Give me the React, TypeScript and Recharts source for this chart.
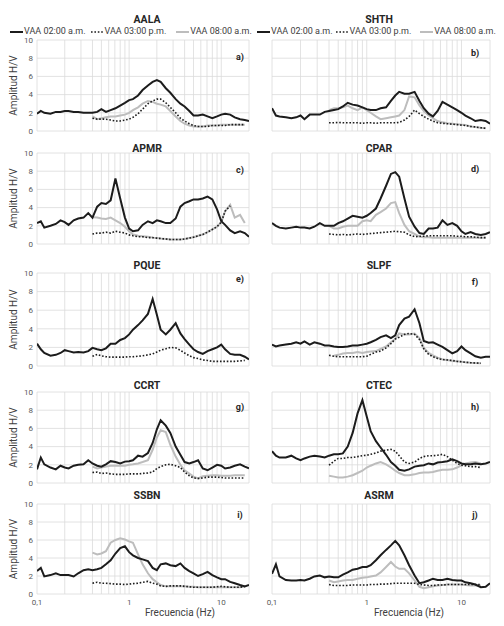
import React from "react";
import { CartesianGrid, Line, LineChart, XAxis, YAxis } from "recharts";

// frequency grid (Hz) shared by all stations
const FREQ = [
  0.1, 0.11, 0.12, 0.14, 0.16, 0.18, 0.2, 0.22, 0.25, 0.28, 0.32, 0.36, 0.4, 0.45, 0.5, 0.56,
  0.63, 0.71, 0.8, 0.9, 1, 1.1, 1.25, 1.4, 1.6, 1.8, 2, 2.2, 2.5, 2.8, 3.2, 3.6, 4, 4.5, 5, 5.6,
  6.3, 7.1, 8, 9, 10, 11, 12.5, 14, 16, 18, 20,
];
// the 03:00 p.m. and 08:00 a.m. records start at 0.4 Hz (FREQ[12]) and stop at 18 Hz
const LATE_START = 12;

const LOG_TICKS = [
  0.1, 0.2, 0.3, 0.4, 0.5, 0.6, 0.7, 0.8, 0.9, 1, 2, 3, 4, 5, 6, 7, 8, 9, 10, 20,
];
const AMP_TICKS = [0, 2, 4, 6, 8, 10];

const SERIES_NAMES = ["VAA 02:00 a.m.", "VAA 03:00 p.m.", "VAA 08:00 a.m."];

const AALA_AM2 = [1.9, 2.2, 2.0, 1.9, 2.1, 2.1, 2.2, 2.2, 2.1, 2.1, 2.0, 2.0, 2.0, 2.1, 2.4, 2.1, 2.3, 2.5, 2.8, 3.1, 3.4, 3.5, 3.9, 4.5, 5.0, 5.4, 5.6, 5.4, 4.7, 4.2, 3.5, 3.0, 2.7, 2.2, 1.7, 1.7, 1.8, 1.6, 1.4, 1.6, 1.8, 1.9, 1.8, 1.5, 1.3, 1.2, 1.1];
const AALA_PM3 = [1.4, 1.3, 1.3, 1.3, 1.2, 1.1, 1.1, 1.2, 1.3, 1.5, 1.9, 2.4, 3.0, 3.3, 3.5, 3.5, 3.1, 2.6, 2.0, 1.4, 1.1, 0.8, 0.6, 0.5, 0.5, 0.5, 0.6, 0.6, 0.6, 0.6, 0.7, 0.7, 0.7, 0.7];
const AALA_AM8 = [1.6, 1.3, 1.4, 1.5, 1.6, 1.6, 1.7, 1.8, 2.0, 2.3, 2.6, 3.0, 3.3, 3.2, 3.0, 2.9, 2.7, 2.2, 1.6, 1.1, 0.8, 0.6, 0.5, 0.5, 0.5, 0.6, 0.6, 0.6, 0.7, 0.7, 0.7, 0.7, 0.7, 0.7];

const SHTH_AM2 = [2.5, 1.7, 1.6, 1.5, 1.4, 1.5, 1.7, 1.3, 1.8, 1.8, 1.8, 2.1, 2.2, 2.3, 2.4, 2.7, 3.1, 2.9, 2.8, 2.6, 2.4, 2.3, 2.3, 2.5, 2.6, 3.3, 3.9, 4.3, 4.1, 4.1, 4.3, 3.3, 2.5, 1.9, 1.6, 2.2, 3.2, 2.9, 2.6, 2.3, 2.0, 1.7, 1.4, 1.1, 1.2, 1.1, 0.8];
const SHTH_PM3 = [0.9, 0.9, 0.95, 0.9, 0.9, 0.9, 0.9, 0.85, 0.9, 0.9, 0.85, 0.9, 0.9, 0.9, 0.9, 0.95, 1.2, 1.6, 2.3, 1.9, 1.6, 1.3, 1.1, 0.9, 0.85, 0.8, 0.75, 0.7, 0.65, 0.6, 0.5, 0.45, 0.35, 0.3];
const SHTH_AM8 = [2.3, 2.5, 2.5, 2.6, 2.8, 2.5, 2.3, 2.6, 2.3, 2.0, 1.6, 1.3, 1.4, 1.5, 1.6, 1.7, 2.3, 3.8, 3.7, 2.8, 2.2, 1.7, 1.4, 1.1, 0.95, 0.85, 0.8, 0.75, 0.7, 0.65, 0.5, 0.45, 0.35, 0.3];

const APMR_AM2 = [2.3, 2.5, 1.8, 2.0, 2.2, 2.6, 2.4, 2.1, 2.6, 2.8, 2.9, 3.4, 2.9, 4.1, 4.5, 4.4, 4.8, 7.2, 5.0, 2.9, 1.7, 1.4, 1.5, 2.1, 2.5, 2.3, 2.6, 2.5, 2.3, 2.3, 2.8, 4.1, 4.5, 4.7, 4.9, 4.9, 5.0, 5.2, 4.9, 3.8, 2.5, 2.1, 1.5, 1.2, 1.4, 1.2, 0.8];
const APMR_PM3 = [1.1, 1.2, 1.2, 1.3, 1.2, 1.4, 1.3, 1.2, 1.0, 0.9, 0.8, 0.8, 0.7, 0.7, 0.65, 0.6, 0.55, 0.5, 0.5, 0.5, 0.55, 0.65, 0.75, 0.9, 1.05, 1.3, 1.6, 1.9, 2.4, 3.6, 4.2, null, null, null];
const APMR_AM8 = [2.95, 2.9, 2.8, 2.75, 2.9, 2.6, 2.3, 1.9, 1.4, 1.05, 0.9, 0.85, 0.8, 0.7, 0.65, 0.6, 0.55, 0.5, 0.5, 0.5, 0.55, 0.65, 0.75, 0.9, 1.05, 1.3, 1.6, 1.9, 2.4, 3.6, 4.3, 2.9, 3.2, 2.3];

const CPAR_AM2 = [2.3, 2.0, 1.8, 1.7, 1.8, 1.9, 1.8, 1.8, 1.7, 1.9, 2.3, 2.0, 2.0, 2.0, 2.3, 2.5, 2.8, 3.1, 3.0, 2.9, 3.1, 3.4, 3.9, 5.0, 6.4, 7.7, 7.9, 7.4, 5.0, 3.0, 1.9, 1.2, 1.1, 1.7, 1.7, 1.8, 2.6, 2.1, 2.3, 2.0, 1.4, 1.1, 1.3, 1.1, 1.0, 1.1, 1.3];
const CPAR_PM3 = [1.1, 1.05, 1.0, 1.05, 1.0, 1.05, 1.1, 1.05, 1.1, 1.15, 1.2, 1.25, 1.3, 1.35, 1.4, 1.35, 1.3, 1.0, 0.8, 0.85, 0.85, 0.9, 0.9, 0.9, 0.9, 0.9, 0.9, 0.85, 0.85, 0.8, 0.8, 0.75, 0.7, 0.7];
const CPAR_AM8 = [2.0, 1.7, 1.7, 1.9, 2.0, 2.0, 2.0, 2.5, 2.6, 2.5, 3.2, 3.5, 3.9, 4.5, 4.6, 3.4, 2.1, 1.4, 1.1, 0.8, 0.75, 0.75, 0.7, 0.7, 0.7, 0.7, 0.7, 0.7, 0.7, 0.7, 0.7, 0.7, 0.7, 0.7];

const PQUE_AM2 = [2.4, 1.8, 1.4, 1.1, 1.2, 1.4, 1.7, 1.6, 1.45, 1.5, 1.45, 1.6, 1.95, 1.8, 1.7, 1.9, 2.4, 2.4, 2.8, 3.0, 3.4, 3.9, 4.4, 4.9, 5.6, 7.2, 5.5, 3.9, 3.4, 3.9, 4.6, 3.5, 2.9, 2.3, 1.8, 1.5, 1.3, 1.6, 1.8, 2.0, 2.3, 1.8, 1.3, 1.2, 1.2, 1.0, 0.7];
const PQUE_PM3 = [1.05, 1.25, 1.1, 1.0, 0.95, 0.95, 0.95, 0.95, 1.0, 1.0, 1.05, 1.1, 1.2, 1.3, 1.5, 1.7, 1.85, 2.0, 1.95, 1.7, 1.4, 1.1, 0.9, 0.8, 0.65, 0.6, 0.5, 0.5, 0.5, 0.5, 0.5, 0.5, 0.55, 0.6];
const PQUE_AM8: (number | null)[] = [];

const SLPF_AM2 = [2.3, 2.1, 2.2, 2.3, 2.4, 2.55, 2.4, 2.65, 2.3, 2.55, 2.4, 2.2, 2.2, 2.1, 2.05, 2.05, 2.1, 2.2, 2.2, 2.3, 2.4, 2.55, 2.8, 3.1, 3.3, 3.0, 3.3, 4.4, 5.1, 5.3, 6.1, 4.6, 2.7, 2.5, 2.55, 2.3, 2.05, 1.7, 1.35, 1.6, 2.1, 1.7, 1.35, 1.05, 0.9, 1.0, 1.0];
const SLPF_PM3 = [1.15, 1.05, 1.0, 1.0, 1.0, 1.0, 1.0, 1.0, 1.05, 1.25, 1.5, 1.6, 1.95, 2.4, 2.9, 3.1, 3.4, 3.5, 3.4, 2.85, 1.85, 1.25, 1.0, 0.8, 0.7, 0.65, 0.6, 0.5, 0.45, 0.4, 0.35, 0.32, 0.3, null];
const SLPF_AM8 = [null, 1.1, 1.2, 1.35, 1.4, 1.4, 1.5, 1.4, 1.5, 1.55, 1.6, 1.85, 2.1, 2.55, 2.9, 3.5, 3.4, 3.4, 3.5, 3.0, 1.95, 1.4, 1.15, 0.9, 0.7, 0.65, 0.55, 0.5, 0.45, 0.4, 0.35, 0.32, 0.3, null];

const CCRT_AM2 = [1.5, 2.8, 2.05, 1.7, 1.5, 1.9, 1.7, 1.6, 1.9, 2.0, 2.05, 2.5, 2.15, 1.9, 1.8, 2.05, 2.4, 2.3, 2.15, 2.35, 2.4, 2.5, 3.0, 2.9, 3.3, 4.4, 5.9, 6.9, 6.3, 5.5, 4.0, 3.1, 2.3, 2.15, 2.3, 2.5, 1.6, 1.4, 1.7, 2.0, 1.9, 1.6, 1.7, 1.9, 2.05, 1.8, 1.6];
const CCRT_PM3 = [1.15, 1.2, 1.05, 1.1, 1.0, 0.95, 0.95, 0.95, 1.0, 1.0, 1.0, 1.05, 1.1, 1.2, 1.6, 1.8, 2.0, 2.05, 1.9, 1.7, 1.2, 0.8, 0.55, 0.5, 0.55, 0.65, 0.65, 0.65, 0.6, 0.55, 0.55, 0.55, 0.55, 0.55];
const CCRT_AM8 = [1.8, 1.6, 1.7, 1.8, 1.9, 1.9, 1.9, 1.9, 2.0, 2.05, 2.15, 2.3, 2.5, 3.65, 5.0, 5.8, 5.6, 4.2, 2.9, 2.0, 1.4, 1.05, 0.7, 0.5, 0.75, 0.8, 0.85, 0.85, 0.8, 0.8, 0.8, 0.85, 0.85, 0.85];

const CTEC_AM2 = [3.5, 3.0, 2.8, 2.8, 3.0, 2.7, 2.5, 2.7, 2.9, 3.0, 2.9, 2.8, 3.0, 3.15, 3.15, 3.25, 4.0, 5.5, 7.65, 9.1, 7.3, 5.7, 4.6, 3.9, 3.1, 2.3, 1.9, 1.45, 1.35, 1.5, 1.8, 1.9, 1.95, 2.15, 2.05, 2.25, 2.3, 2.4, 2.6, 2.4, 2.15, 2.05, 2.05, 2.15, 2.05, 2.15, 2.3];
const CTEC_PM3 = [1.95, 2.4, 2.7, 2.7, 2.8, 2.8, 2.9, 3.0, 3.05, 3.15, 3.3, 3.5, 3.6, 3.7, 3.5, 3.0, 2.3, 2.15, 2.3, 2.7, 2.9, 3.0, 3.0, 3.05, 3.15, 2.9, 2.5, 2.15, 1.95, 1.9, 1.8, 1.8, 1.7, null];
const CTEC_AM8 = [0.8, 0.7, 0.6, 0.6, 0.7, 0.85, 1.1, 1.35, 1.7, 1.9, 2.15, 2.3, 2.05, 1.7, 1.35, 1.1, 0.85, 0.85, 0.95, 1.1, 1.15, 1.15, 1.2, 1.35, 1.45, 1.45, 1.5, 1.7, 1.95, 2.15, 2.25, 2.3, 2.15, null];

const SSBN_AM2 = [2.55, 2.9, 1.95, 2.1, 2.3, 2.1, 2.1, 2.1, 1.95, 2.3, 2.65, 2.75, 2.65, 2.75, 2.9, 3.3, 3.75, 4.5, 5.1, 5.3, 4.65, 4.3, 4.0, 3.85, 3.65, 2.9, 2.65, 3.3, 3.4, 3.2, 3.1, 3.4, 2.9, 2.55, 2.3, 2.0, 2.2, 2.45, 2.1, 1.85, 1.65, 1.65, 1.35, 1.2, 1.0, 0.85, 1.0];
const SSBN_PM3 = [1.2, 1.3, 1.2, 1.2, 1.15, 1.1, 1.1, 1.05, 1.1, 1.15, 1.2, 1.3, 1.4, 1.2, 1.1, 0.9, 0.85, 0.9, 0.9, 0.9, 0.85, 0.8, 0.75, 0.75, 0.75, 0.75, 0.75, 0.8, 0.85, 0.8, 0.75, 0.75, 0.75, 0.85];
const SSBN_AM8 = [4.6, 4.4, 4.5, 4.75, 5.7, 6.0, 6.2, 6.05, 5.85, 5.7, 4.4, 3.3, 2.3, 1.65, 1.3, 1.0, 0.85, 0.85, 0.85, 0.85, 0.85, 0.8, 0.8, 0.75, 0.75, 0.75, 0.75, 0.75, 0.75, 0.75, 0.75, 0.75, 0.75, 0.85];

const ASRM_AM2 = [2.25, 3.3, 1.95, 1.55, 1.5, 1.5, 1.55, 1.5, 1.7, 1.95, 2.05, 1.85, 1.95, 1.85, 1.85, 2.15, 2.4, 2.7, 2.8, 3.0, 3.0, 3.2, 3.75, 4.3, 4.9, 5.4, 5.9, 5.4, 4.3, 3.2, 2.05, 1.2, 1.3, 1.5, 1.7, 1.55, 1.55, 1.7, 1.55, 1.5, 1.5, 1.3, 1.2, 1.05, 0.75, 0.8, 1.2];
const ASRM_PM3 = [1.05, 0.95, 0.95, 0.95, 0.95, 1.0, 1.0, 1.0, 1.0, 1.05, 1.05, 1.1, 1.1, 1.15, 1.2, 1.2, 1.2, 1.2, 1.2, 1.05, 1.0, 0.95, 0.95, 1.0, 1.0, 1.05, 1.05, 1.05, 1.05, 1.05, 1.05, 1.05, 1.05, null];
const ASRM_AM8 = [1.5, 1.3, 1.4, 1.5, 1.55, 1.55, 1.7, 1.8, 1.85, 1.95, 2.05, 2.4, 3.0, 3.55, 3.05, 2.8, 2.8, 2.3, 1.5, 0.8, 0.65, 0.75, 0.85, 0.95, 1.0, 1.05, 1.05, 1.05, 1.05, 1.0, 0.95, 0.95, 0.95, null];

type Vals = (number | null)[];

type Panel = {
  station: string;
  letter: string;
  col: number;
  row: number;
  letterDy: number;
  am2: Vals;
  pm3: Vals;
  am8: Vals;
};

const PANELS: Panel[] = [
  { station: "AALA", letter: "a)", col: 0, row: 0, letterDy: 17, am2: AALA_AM2, pm3: AALA_PM3, am8: AALA_AM8 },
  { station: "SHTH", letter: "b)", col: 1, row: 0, letterDy: 13, am2: SHTH_AM2, pm3: SHTH_PM3, am8: SHTH_AM8 },
  { station: "APMR", letter: "c)", col: 0, row: 1, letterDy: 17, am2: APMR_AM2, pm3: APMR_PM3, am8: APMR_AM8 },
  { station: "CPAR", letter: "d)", col: 1, row: 1, letterDy: 16, am2: CPAR_AM2, pm3: CPAR_PM3, am8: CPAR_AM8 },
  { station: "PQUE", letter: "e)", col: 0, row: 2, letterDy: 6, am2: PQUE_AM2, pm3: PQUE_PM3, am8: PQUE_AM8 },
  { station: "SLPF", letter: "f)", col: 1, row: 2, letterDy: 9, am2: SLPF_AM2, pm3: SLPF_PM3, am8: SLPF_AM8 },
  { station: "CCRT", letter: "g)", col: 0, row: 3, letterDy: 15, am2: CCRT_AM2, pm3: CCRT_PM3, am8: CCRT_AM8 },
  { station: "CTEC", letter: "h)", col: 1, row: 3, letterDy: 15, am2: CTEC_AM2, pm3: CTEC_PM3, am8: CTEC_AM8 },
  { station: "SSBN", letter: "i)", col: 0, row: 4, letterDy: 11, am2: SSBN_AM2, pm3: SSBN_PM3, am8: SSBN_AM8 },
  { station: "ASRM", letter: "j)", col: 1, row: 4, letterDy: 11, am2: ASRM_AM2, pm3: ASRM_PM3, am8: ASRM_AM8 },
];

// layout
const ROW_TOP = [40, 153, 273, 392, 504];
const ROW_BOTTOM = [131, 244, 366, 483, 594];
const TITLE_Y = [19, 148, 265, 385, 495];
const TITLE_X = [147, 379];
const LETTER_X = [240, 475];
const FONT = "Roboto, 'Open Sans', Arial, sans-serif";
const BLACK = "#1c1c1c";
const GRAY = "#bdbdbd";

function buildRows(p: Panel) {
  return FREQ.map((f, i) => {
    const j = i - LATE_START;
    return {
      f,
      am2: p.am2[i] ?? null,
      pm3: j >= 0 ? p.pm3[j] ?? null : null,
      am8: j >= 0 ? p.am8[j] ?? null : null,
    };
  });
}

const freqLabel = (v: number) => (v === 0.1 ? "0,1" : v === 1 ? "1" : v === 10 ? "10" : "");

function HvPanel({ p }: { p: Panel }) {
  const left = p.col === 0;
  const last = p.row === 4;
  const top = ROW_TOP[p.row];
  const plotH = ROW_BOTTOM[p.row] - top;
  const padTop = 6;
  const padBottom = last ? 0 : 6;
  const axisH = last ? 14 : 0;
  const margin = left
    ? { top: padTop, right: 3, bottom: padBottom, left: 0 }
    : { top: padTop, right: 14, bottom: padBottom, left: 20 };

  return (
    <div style={{ position: "absolute", left: left ? 0 : 252, top: top - padTop }}>
      <LineChart
        width={252}
        height={plotH + padTop + padBottom + axisH}
        data={buildRows(p)}
        margin={margin}
      >
        <CartesianGrid stroke="#dadada" strokeWidth={0.8} />
        <XAxis
          dataKey="f"
          type="number"
          scale="log"
          domain={[0.1, 20]}
          allowDataOverflow
          ticks={LOG_TICKS}
          interval={0}
          hide={!last}
          height={axisH}
          axisLine={false}
          tickLine={false}
          tickSize={3}
          tickMargin={2}
          tick={{ fontSize: 8, fill: "#595959", fontFamily: FONT }}
          tickFormatter={freqLabel}
        />
        <YAxis
          type="number"
          domain={[0, 10]}
          ticks={AMP_TICKS}
          interval={0}
          hide={!left}
          width={37}
          axisLine={false}
          tickLine={false}
          tickSize={2}
          tickMargin={2}
          tick={{ fontSize: 8, fill: "#595959", fontFamily: FONT }}
          label={{
            value: "Amplitud H/V",
            angle: -90,
            position: "center",
            dx: -5,
            style: { fontSize: 10, fill: "#404040", fontFamily: FONT },
          }}
        />
        <Line dataKey="am8" name={SERIES_NAMES[2]} stroke={GRAY} strokeWidth={2} dot={false} isAnimationActive={false} />
        <Line dataKey="pm3" name={SERIES_NAMES[1]} stroke={BLACK} strokeWidth={1.6} strokeDasharray="1.6 1.8" dot={false} isAnimationActive={false} />
        <Line dataKey="am2" name={SERIES_NAMES[0]} stroke={BLACK} strokeWidth={2} dot={false} isAnimationActive={false} />
      </LineChart>
    </div>
  );
}

const centered = (x: number, y: number): React.CSSProperties => ({
  position: "absolute",
  left: x,
  top: y,
  transform: "translate(-50%, -50%)",
  whiteSpace: "nowrap",
  fontFamily: FONT,
});

function Swatch({ kind }: { kind: number }) {
  return (
    <svg width={13} height={4} style={{ marginRight: 1 }}>
      <line
        x1={0}
        y1={2}
        x2={13}
        y2={2}
        stroke={kind === 2 ? GRAY : BLACK}
        strokeWidth={kind === 1 ? 1.6 : 2}
        strokeDasharray={kind === 1 ? "1.6 1.8" : undefined}
      />
    </svg>
  );
}

function LegendRow({ x, gaps }: { x: number; gaps: number[] }) {
  return (
    <div
      style={{
        position: "absolute",
        left: x,
        top: 26,
        display: "flex",
        alignItems: "center",
        fontSize: 9,
        lineHeight: "11px",
        color: "#404040",
        fontFamily: FONT,
        whiteSpace: "nowrap",
      }}
    >
      {SERIES_NAMES.map((name, i) => (
        <span key={name} style={{ display: "flex", alignItems: "center", marginRight: gaps[i] }}>
          <Swatch kind={i} />
          <span>{name}</span>
        </span>
      ))}
    </div>
  );
}

export default function App() {
  return (
    <div style={{ position: "absolute", left: 0, top: 0, width: 504, height: 626, background: "#fff", overflow: "hidden" }}>
      {PANELS.map((p) => (
        <React.Fragment key={p.station}>
          <div style={{ ...centered(TITLE_X[p.col], TITLE_Y[p.row]), fontSize: 10.5, fontWeight: 700, color: "#262626" }}>
            {p.station}
          </div>
          <HvPanel p={p} />
          <div style={{ ...centered(LETTER_X[p.col], ROW_TOP[p.row] + p.letterDy), fontSize: 9, fontWeight: 700, color: "#262626" }}>
            {p.letter}
          </div>
        </React.Fragment>
      ))}
      <LegendRow x={10} gaps={[5, 10, 0]} />
      <LegendRow x={257} gaps={[3, 9, 0]} />
      <div style={{ ...centered(180, 612), fontSize: 10, color: "#404040" }}>Frecuencia (Hz)</div>
      <div style={{ ...centered(409, 612), fontSize: 10, color: "#404040" }}>Frecuencia (Hz)</div>
    </div>
  );
}
